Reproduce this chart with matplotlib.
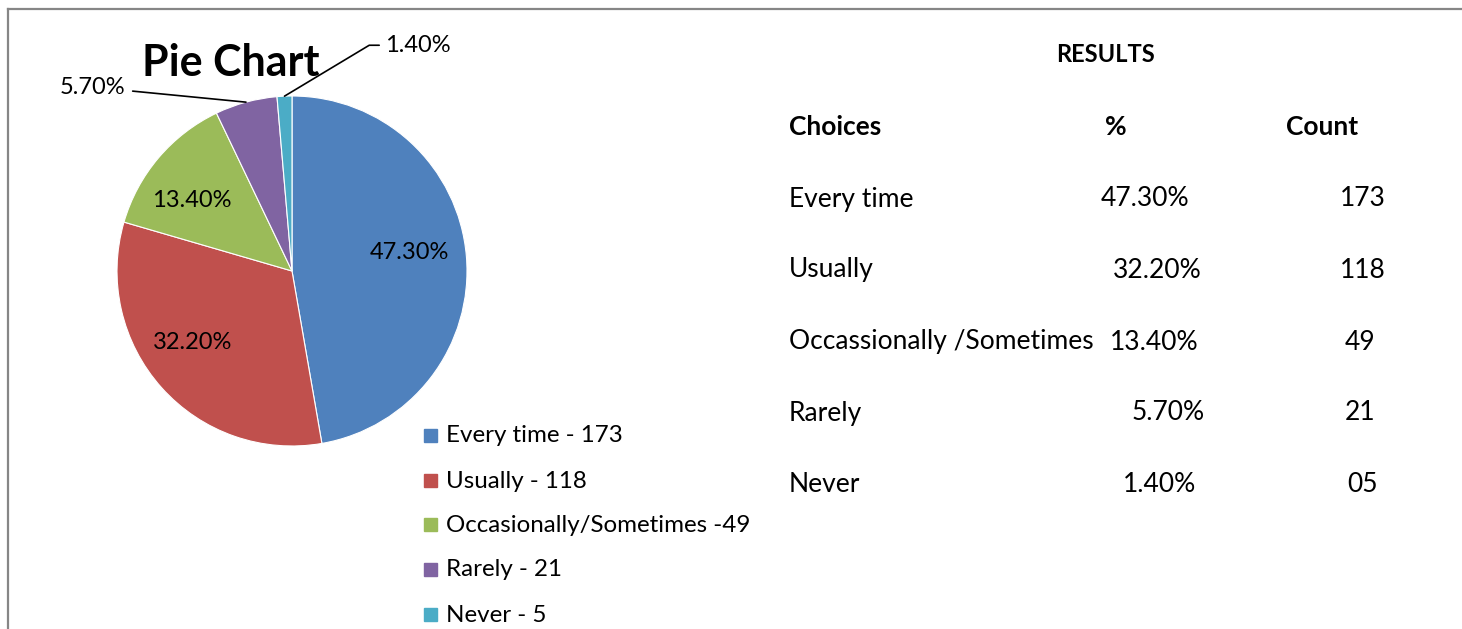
import numpy as np
import matplotlib
matplotlib.use("Agg")
import matplotlib.pyplot as plt
from matplotlib.lines import Line2D
from matplotlib.patches import Rectangle

plt.rcParams['font.family'] = ['Lato', 'DejaVu Sans']

# data
choices = ['Every time', 'Usually', 'Occasionally/Sometimes', 'Rarely', 'Never']
counts = [173, 118, 49, 21, 5]
pct_labels = ['47.30%', '32.20%', '13.40%', '5.70%', '1.40%']
legend_labels = ['Every time - 173', 'Usually - 118', 'Occasionally/Sometimes -49',
                 'Rarely - 21', 'Never - 5']
colors = ['#4F81BD', '#C0504D', '#9BBB59', '#8064A2', '#4BACC6']

table_choices = ['Every time', 'Usually', 'Occassionally /Sometimes', 'Rarely', 'Never']
table_pct = ['47.30%', '32.20%', '13.40%', '5.70%', '1.40%']
table_count = ['173', '118', '49', '21', '05']

W, H = 1462, 629
fig = plt.figure(figsize=(W / 100, H / 100), dpi=100)


def px(x, y):
    return x / W, 1 - y / H


# outer frame (only top and left edges visible)
fig.add_artist(Line2D([8 / W, 8 / W], [0, 1 - 9 / H], color='#868686', lw=1.6))
fig.add_artist(Line2D([8 / W, 1], [1 - 9 / H, 1 - 9 / H], color='#868686', lw=1.6))

# pie
cx, cy, r = 292, 271, 175
ax = fig.add_axes([(cx - r) / W, 1 - (cy + r) / H, 2 * r / W, 2 * r / H])
wedges, _ = ax.pie(counts, colors=colors, startangle=90, counterclock=False,
                   radius=1, wedgeprops=dict(edgecolor='white', linewidth=0.8))
ax.set_xlim(-1, 1)
ax.set_ylim(-1, 1)
ax.set_aspect('equal')
ax.axis('off')

# labels inside big slices, leader lines for small ones
inner_d = [0.68, 0.70, 0.70]
inner_shift = [4, -6, 5]
for i, w in enumerate(wedges):
    ang = np.deg2rad((w.theta1 + w.theta2) / 2)
    c, s = np.cos(ang), np.sin(ang)
    if i < 3:
        a2 = ang + np.deg2rad(inner_shift[i])
        ax.text(inner_d[i] * np.cos(a2), inner_d[i] * np.sin(a2), pct_labels[i],
                ha='center', va='center', fontsize=17)
    elif i == 3:
        ax.annotate(pct_labels[i], xy=(c, s), xytext=(-0.95, 1.05),
                    ha='right', va='center', fontsize=17,
                    arrowprops=dict(arrowstyle='-', color='black', lw=1.2,
                                    shrinkA=3, shrinkB=0), annotation_clip=False)
    else:
        ax.annotate(pct_labels[i], xy=(c, s), xytext=(0.53, 1.29),
                    ha='left', va='center', fontsize=17,
                    arrowprops=dict(arrowstyle='-', color='black', lw=1.2,
                                    connectionstyle='angle,angleA=0,angleB=31,rad=0',
                                    shrinkA=2, shrinkB=0), annotation_clip=False)

fig.text(*px(231, 63), 'Pie Chart', fontsize=31, fontweight='bold', ha='center', va='center')

# legend
leg_y = [436, 481, 525, 570, 615]
for lab, col, y in zip(legend_labels, colors, leg_y):
    fig.add_artist(Rectangle(px(424, y + 6), 13 / W, 13 / H, color=col))
    fig.text(*px(446, y), lab, fontsize=17.4, ha='left', va='center')

# results table
fig.text(*px(1106, 54), 'RESULTS', fontsize=17, fontweight='bold', ha='center', va='center')
fig.text(*px(789, 127), 'Choices', fontsize=19, fontweight='bold', ha='left', va='center')
fig.text(*px(1116, 127), '%', fontsize=19, fontweight='bold', ha='center', va='center')
fig.text(*px(1322, 127), 'Count', fontsize=19, fontweight='bold', ha='center', va='center')

row_y = [199, 270, 342, 413, 485]
pct_x = [1145, 1157, 1154, 1168, 1160]
cnt_x = [1363, 1363, 1360, 1360, 1363]
for ch, p, n, y, xp, xc in zip(table_choices, table_pct, table_count, row_y, pct_x, cnt_x):
    fig.text(*px(789, y), ch, fontsize=19, ha='left', va='center')
    fig.text(*px(xp, y), p, fontsize=19, ha='center', va='center')
    fig.text(*px(xc, y), n, fontsize=19, ha='center', va='center')

fig.savefig('out.png', dpi=100, facecolor='white')
